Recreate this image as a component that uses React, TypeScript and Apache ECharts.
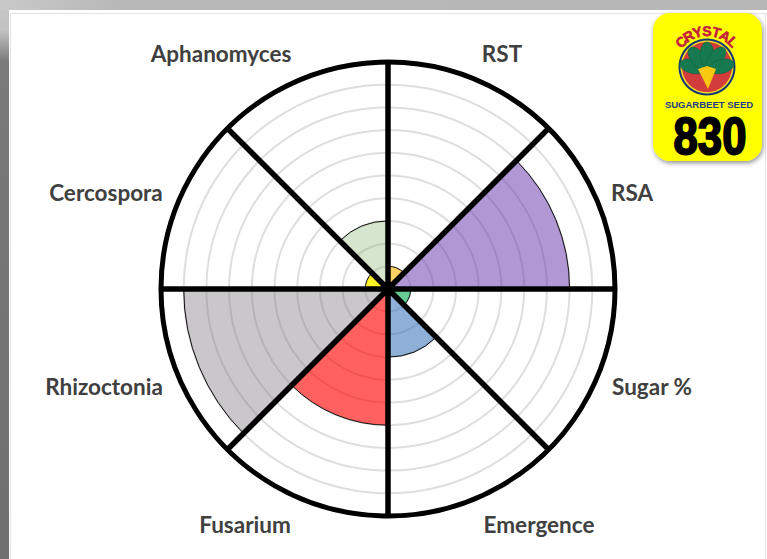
import React, { useEffect, useRef } from "react";
import * as echarts from "echarts";

const categories = ["RST", "RSA", "Sugar %", "Emergence", "Fusarium", "Rhizoctonia", "Cercospora", "Aphanomyces"];
const values = [1, 8, 1, 3, 6, 9, 1, 3];
const sliceColors = [
  "rgba(255,180,0,0.6)",
  "rgba(100,50,170,0.5)",
  "rgba(0,170,80,0.6)",
  "rgba(50,110,180,0.55)",
  "rgba(255,0,0,0.62)",
  "rgba(120,115,120,0.4)",
  "rgba(255,240,0,0.85)",
  "rgba(120,170,90,0.3)",
];
const labelPositions = [
  [502, 53], [632, 192], [652, 386], [539, 524],
  [245, 524], [104, 386], [106, 192], [221, 53],
];
const brandLetters = "CRYSTAL".split("");
const brandLine = "SUGARBEET SEED";
const brandNumber = "830";
const leafAngles = [-76, -38, 0, 38, 76];

const LOGO_X = 707;
const LOGO_Y = 67;

function logoElements(): any[] {
  const leaves = leafAngles.map((deg) => {
    const a = (deg * Math.PI) / 180;
    return {
      type: "ellipse",
      x: LOGO_X + Math.sin(a) * 15,
      y: LOGO_Y + 3 - Math.cos(a) * 15,
      rotation: -a,
      shape: { cx: 0, cy: 0, rx: 7, ry: 13 },
      style: { fill: "#17794f", stroke: "#0f5f3c", lineWidth: 0.5 },
      z: 13,
    };
  });
  const letters = brandLetters.map((ch, i) => {
    const deg = -46 + i * 15.3;
    const a = (deg * Math.PI) / 180;
    return {
      type: "text",
      x: LOGO_X + Math.sin(a) * 36,
      y: LOGO_Y - Math.cos(a) * 36,
      rotation: -a,
      style: {
        text: ch,
        fill: "#c4203f",
        stroke: "#c4203f",
        lineWidth: 0.6,
        font: "bold 14px 'Liberation Sans'",
        align: "center",
        verticalAlign: "middle",
      },
      z: 13,
    };
  });
  return [
    {
      type: "rect",
      shape: { x: 653, y: 13, width: 109, height: 148, r: 17 },
      style: { fill: "#ffff00", shadowBlur: 5, shadowColor: "rgba(0,0,0,0.45)", shadowOffsetY: 2, shadowOffsetX: 1 },
      z: 10,
    },
    { type: "circle", shape: { cx: LOGO_X, cy: LOGO_Y, r: 28.5 }, style: { fill: "#16357f" }, z: 11 },
    { type: "circle", shape: { cx: LOGO_X, cy: LOGO_Y, r: 26.5 }, style: { fill: "#f5e21a" }, z: 11 },
    { type: "circle", shape: { cx: LOGO_X, cy: LOGO_Y, r: 25 }, style: { fill: "#d23c3c" }, z: 12 },
    ...leaves,
    {
      type: "polygon",
      shape: { points: [[698, 69], [707, 66], [716, 69], [708, 89]] },
      style: { fill: "#f8c80c" },
      z: 14,
    },
    ...letters,
    {
      type: "text",
      x: 709,
      y: 104,
      style: { text: brandLine, fill: "#1e3a8a", font: "bold 9.5px 'Liberation Sans'", align: "center", verticalAlign: "middle" },
      z: 13,
    },
    {
      type: "text",
      x: 710,
      y: 136,
      scaleX: 0.84,
      style: {
        text: brandNumber,
        fill: "#000",
        stroke: "#000",
        lineWidth: 2,
        font: "bold 52px 'Liberation Sans'",
        align: "center",
        verticalAlign: "middle",
      },
      z: 13,
    },
  ];
}

export default function App() {
  const ref = useRef<HTMLDivElement>(null);
  useEffect(() => {
    document.body.style.margin = "0";
    const chart = echarts.init(ref.current!, null, { renderer: "svg" });
    chart.setOption({
      animation: false,
      polar: { center: [388, 289], radius: 227 },
      angleAxis: {
        type: "category",
        data: categories,
        startAngle: 90,
        clockwise: true,
        z: 6,
        axisLine: { show: true, lineStyle: { color: "#000", width: 5 } },
        axisTick: { show: false },
        axisLabel: { show: false },
        splitLine: { show: true, lineStyle: { color: "#000", width: 5.5 } },
      },
      radiusAxis: {
        type: "value",
        min: 0,
        max: 10,
        interval: 1,
        z: 1,
        axisLine: { show: false },
        axisTick: { show: false },
        axisLabel: { show: false },
        splitLine: { show: true, lineStyle: { color: "#dedede", width: 2 } },
      },
      series: [
        {
          type: "bar",
          coordinateSystem: "polar",
          barWidth: "100%",
          z: 3,
          data: values.map((value, i) => ({
            value,
            itemStyle: { color: sliceColors[i], borderColor: "#111", borderWidth: 1 },
          })),
        },
      ],
      graphic: [
        ...categories.map((name, i) => ({
          type: "text",
          x: labelPositions[i][0],
          y: labelPositions[i][1],
          style: {
            text: name,
            fill: "#404040",
            font: "bold 22.5px Lato",
            align: "center",
            verticalAlign: "middle",
          },
          z: 8,
        })),
        ...logoElements(),
      ],
    });
    return () => chart.dispose();
  }, []);

  return (
    <div style={{ position: "relative", width: 767, height: 559, overflow: "hidden", background: "#fff" }}>
      <div style={{ position: "absolute", left: 0, top: 0, width: 767, height: 10, background: "linear-gradient(90deg,#c9c9c9 0,#b8b8b8 120px,#b7b7b7 100%)" }} />
      <div style={{ position: "absolute", left: 0, top: 10, width: 9, height: 549, background: "linear-gradient(180deg,#c6c6c6 0,#c2c2c2 20px,#7a7a7a 52px,#6f6f6f 100%)" }} />
      <div style={{ position: "absolute", left: 10, top: 13, width: 757, height: 1, background: "#e2e2e2" }} />
      <div style={{ position: "absolute", left: 10, top: 13, width: 1, height: 546, background: "#e2e2e2" }} />
      <div style={{ position: "absolute", left: 765, top: 13, width: 1, height: 546, background: "#e2e2e2" }} />
      <div ref={ref} style={{ position: "absolute", left: 0, top: 0, width: 767, height: 559 }} />
    </div>
  );
}
